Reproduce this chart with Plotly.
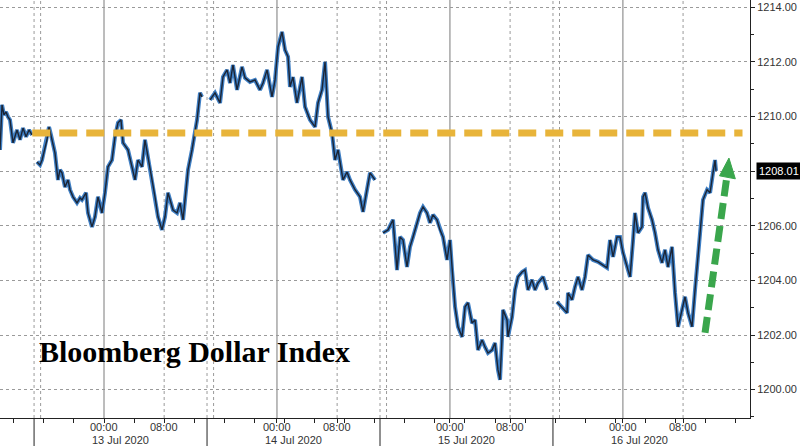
import plotly.graph_objects as go

# ---- data (session hours from 13 Jul 00:00; one session = 23 h) ----
t = [
    -13.83, -13.56, -13.30, -13.03, -12.77, -12.50, -12.10, -11.97, -11.57, -11.17, -10.77, -10.37, -9.97, -9.57,
    None,
    -8.91, -8.51, -8.24, -7.85, -7.58, -7.31, -7.05, -6.78, -6.52, -6.12, -5.85, -5.59, -5.19, -4.79, -4.52,
    -4.12, -3.59, -3.19, -2.93, -2.39, -2.13, -1.60, -1.20, -0.80, -0.27, 0.13, 0.53, 1.06, 1.46, 1.86, 2.26,
    2.53, 3.19, 3.72, 4.12, 4.52, 5.05, 5.45, 5.85, 6.38, 6.78, 7.18, 7.71, 8.11, 8.51, 9.18, 9.71, 10.11,
    10.51, 10.77, 11.17, 11.70, 12.10, 12.37, 12.77, 13.03,
    None,
    14.10, 14.76, 15.43, 15.82, 16.36, 16.76, 17.15, 17.69, 18.35, 18.75, 19.41, 20.08, 20.74, 21.14, 21.68,
    22.34, 22.74, 23.14, 23.67, 24.07, 24.47, 24.73, 25.13, 25.66, 26.33, 26.73, 27.39, 28.06, 28.46, 28.99,
    29.39, 29.79, 30.32, 30.72, 31.12, 31.78, 32.31, 32.71, 33.38, 34.04, 34.44, 34.97, 35.37, 36.04,
    None,
    37.10, 37.77, 38.43, 38.70, 38.96, 39.36, 39.76, 40.29, 40.69, 41.09, 41.62, 42.02, 42.42, 42.95, 43.35,
    43.75, 44.28, 44.68, 45.08, 45.61, 46.01, 46.28, 46.68, 47.07, 47.61, 48.01, 48.40, 48.94, 49.34, 49.73,
    50.27, 50.66, 51.06, 51.60, 51.99, 52.39, 52.66, 52.93, 53.06, 53.59, 53.72, 54.26, 54.65, 55.05, 55.59,
    55.98, 56.38, 56.91, 57.31, 57.71, 58.38, 58.91,
    None,
    60.24, 60.90, 61.57, 61.70, 62.23, 62.63, 63.03, 63.56, 63.96, 64.36, 65.03, 65.69, 66.36, 66.89, 67.29,
    67.69, 68.22, 68.62, 69.02, 69.55, 69.95, 70.35, 70.61, 71.01, 71.54, 71.68, 71.94, 72.34, 72.87, 73.27,
    73.67, 74.20, 74.60, 75.00, 75.53, 75.93, 76.33, 76.86, 77.26, 77.66, 78.19, 78.59, 78.86, 79.26, 79.65,
    80.19, 80.59, 80.98, 81.25, 81.38,
]
price = [
    1208.78, 1210.43, 1210.06, 1210.17, 1209.99, 1209.88, 1209.04, 1209.15, 1209.51, 1209.15, 1209.58, 1209.26, 1209.51, 1209.33,
    None,
    1208.34, 1208.23, 1208.41, 1208.89, 1209.15, 1209.62, 1209.33, 1209.04, 1208.67, 1207.68, 1208.05, 1207.94, 1207.42, 1207.68, 1207.32,
    1207.06, 1206.84, 1207.02, 1206.95, 1207.21, 1206.47, 1205.96, 1206.33, 1207.06, 1206.47, 1207.21, 1208.16, 1208.41, 1209.26, 1209.77, 1209.88,
    1209.04, 1208.78, 1208.16, 1207.68, 1208.41, 1208.16, 1209.15, 1208.52, 1207.79, 1207.06, 1206.33, 1205.85, 1206.33, 1207.21, 1206.58, 1206.47, 1206.84,
    1206.22, 1206.95, 1208.05, 1208.78, 1209.51, 1209.88, 1210.87, 1210.72,
    None,
    1210.61, 1210.87, 1210.50, 1211.45, 1211.71, 1211.23, 1211.89, 1210.98, 1211.82, 1211.42, 1211.27, 1211.34, 1210.98, 1211.23, 1211.71,
    1210.72, 1211.34, 1212.55, 1213.10, 1212.44, 1212.19, 1211.09, 1211.45, 1210.50, 1211.45, 1210.36, 1209.88, 1209.62, 1210.50, 1210.98,
    1212.00, 1209.99, 1209.40, 1208.41, 1208.78, 1207.68, 1207.97, 1207.68, 1207.32, 1207.06, 1206.51, 1207.32, 1207.94, 1207.68,
    None,
    1205.74, 1205.85, 1206.22, 1205.12, 1204.38, 1205.59, 1205.48, 1204.49, 1205.23, 1205.59, 1206.11, 1206.47, 1206.69, 1206.47, 1206.11,
    1206.40, 1206.22, 1205.85, 1205.59, 1204.75, 1205.48, 1204.38, 1203.03, 1202.30, 1201.93, 1203.03, 1203.18, 1202.44, 1202.55, 1201.45,
    1201.82, 1201.56, 1201.34, 1201.45, 1201.71, 1200.72, 1200.36, 1201.93, 1202.92, 1202.55, 1201.93, 1202.66, 1203.65, 1204.13, 1204.31,
    1204.38, 1203.65, 1204.02, 1203.65, 1203.91, 1204.13, 1203.65,
    None,
    1203.21, 1203.03, 1202.81, 1203.54, 1203.29, 1203.76, 1204.13, 1203.65, 1204.13, 1204.93, 1204.75, 1204.68, 1204.57, 1204.46, 1205.48,
    1204.86, 1205.59, 1205.59, 1205.01, 1204.49, 1204.13, 1205.48, 1206.47, 1205.74, 1205.96, 1207.06, 1207.21, 1206.66, 1206.22, 1205.74,
    1205.12, 1204.64, 1205.12, 1204.49, 1205.23, 1203.54, 1202.30, 1202.92, 1203.40, 1202.81, 1202.30, 1203.65, 1204.49, 1205.74, 1206.95,
    1207.32, 1207.21, 1207.94, 1208.41, 1208.01,
]

last_price = 1208.01
resistance = 1209.40

day_labels = ["13 Jul 2020", "14 Jul 2020", "15 Jul 2020", "16 Jul 2020"]
session_start = [-9.3, 13.7, 36.7, 59.7]
midnight_ticks = [0, 23, 46, 69]
eight_ticks = [8, 31, 54, 77]
time_labels = ["00:00", "08:00"]
y_ticks = [1200, 1202, 1204, 1206, 1208, 1210, 1212, 1214]
y_ticktext = ["1200.00", "1202.00", "1204.00", "1206.00", "", "1210.00", "1212.00", "1214.00"]

X_RANGE = [-13.83, 85.9]
Y_RANGE = [1198.96, 1214.27]

TICK_FONT = dict(family="Liberation Sans, Arial, sans-serif", size=11, color="#333333")

fig = go.Figure()

# body of bars (blue) + outline (dark)
fig.add_trace(go.Scatter(x=t, y=price, mode="lines",
                         line=dict(color="#3f7fc4", width=4), connectgaps=False,
                         hoverinfo="skip", showlegend=False))
fig.add_trace(go.Scatter(x=t, y=price, mode="lines",
                         line=dict(color="#1b2434", width=1.4), connectgaps=False,
                         showlegend=False))

shapes = []
grid_col = "#9a9a9a"
for v in midnight_ticks:
    shapes.append(dict(type="line", xref="x", yref="paper", x0=v, x1=v, y0=0, y1=1,
                       line=dict(color="#7a7a7a", width=1), layer="below"))
for v in eight_ticks:
    shapes.append(dict(type="line", xref="x", yref="paper", x0=v, x1=v, y0=0, y1=1,
                       line=dict(color=grid_col, width=1, dash="dot"), layer="below"))
span = X_RANGE[1] - X_RANGE[0]
for s in session_start:
    for off in (0.0, 0.87):
        shapes.append(dict(type="line", xref="x", yref="paper", x0=s + off, x1=s + off, y0=0, y1=1,
                           line=dict(color=grid_col, width=1, dash="dot"), layer="below"))
    px = (s - X_RANGE[0]) / span
    shapes.append(dict(type="line", xref="paper", yref="paper", x0=px, x1=px, y0=0, y1=-0.08,
                       line=dict(color="#222222", width=1)))

# resistance line
shapes.append(dict(type="line", xref="paper", yref="y", x0=0.043, x1=0.99, y0=resistance, y1=resistance,
                   line=dict(color="#e8b43a", width=7, dash="18px,9px")))
# green dashed arrow
shapes.append(dict(type="line", xref="x", yref="y", x0=79.92, y0=1202.08, x1=82.85, y1=1207.85,
                   line=dict(color="#3aa64c", width=7, dash="16px,7px")))
shapes.append(dict(type="path", xref="x", yref="y",
                   path="M 81.85,1207.83 L 83.1,1208.48 L 83.95,1207.72 Z",
                   fillcolor="#3aa64c", line=dict(color="#3aa64c", width=1)))

annotations = []
for lbl, s in zip(day_labels, session_start):
    annotations.append(dict(text=lbl, x=s + 11.5, xref="x", y=-0.053, yref="paper",
                            showarrow=False, xanchor="center", yanchor="middle",
                            font=TICK_FONT))
for ticks_, lbl in zip((midnight_ticks, eight_ticks), time_labels):
    for v in ticks_:
        annotations.append(dict(text=lbl, x=v, xref="x", y=-0.021, yref="paper",
                                showarrow=False, xanchor="center", yanchor="middle",
                                font=TICK_FONT))
annotations.append(dict(text="<b>Bloomberg Dollar Index</b>", x=0.049, xref="paper", y=0.158, yref="paper",
                        showarrow=False, xanchor="left", yanchor="middle",
                        font=dict(family="Liberation Serif, Times New Roman, serif", size=30, color="#000000")))
annotations.append(dict(text=f"{last_price:.2f}", x=1, xref="paper", y=last_price, yref="y",
                        xanchor="left", yanchor="middle", xshift=6, showarrow=False,
                        bgcolor="#000000", borderpad=2,
                        font=dict(family="Liberation Sans, Arial, sans-serif", size=11, color="#ffffff")))

fig.update_layout(
    width=800, height=446,
    margin=dict(l=0, r=50, t=0, b=28, autoexpand=False),
    paper_bgcolor="#ffffff", plot_bgcolor="#ffffff",
    shapes=shapes, annotations=annotations,
    xaxis=dict(range=X_RANGE, tickmode="array", automargin=False,
               tickvals=midnight_ticks + eight_ticks, showticklabels=False,
               showgrid=False, zeroline=False, showline=True, linecolor="#222222", linewidth=1,
               ticks="outside", ticklen=4, tickcolor="#222222",
               minor=dict(tick0=0, dtick=4, ticks="outside", ticklen=4, tickcolor="#222222", showgrid=False)),
    yaxis=dict(range=Y_RANGE, side="right", tickmode="array", tickvals=y_ticks, ticktext=y_ticktext,
               automargin=False,
               showgrid=True, gridcolor=grid_col, griddash="dot", gridwidth=1,
               zeroline=False, showline=True, linecolor="#222222", linewidth=1,
               ticks="outside", ticklen=4, tickcolor="#222222",
               minor=dict(tick0=1199, dtick=1, ticks="outside", ticklen=3, tickcolor="#222222", showgrid=False),
               tickfont=TICK_FONT),
)

fig.write_html("out.html", config={"displayModeBar": False},
               post_script="document.body.style.margin='0';")
